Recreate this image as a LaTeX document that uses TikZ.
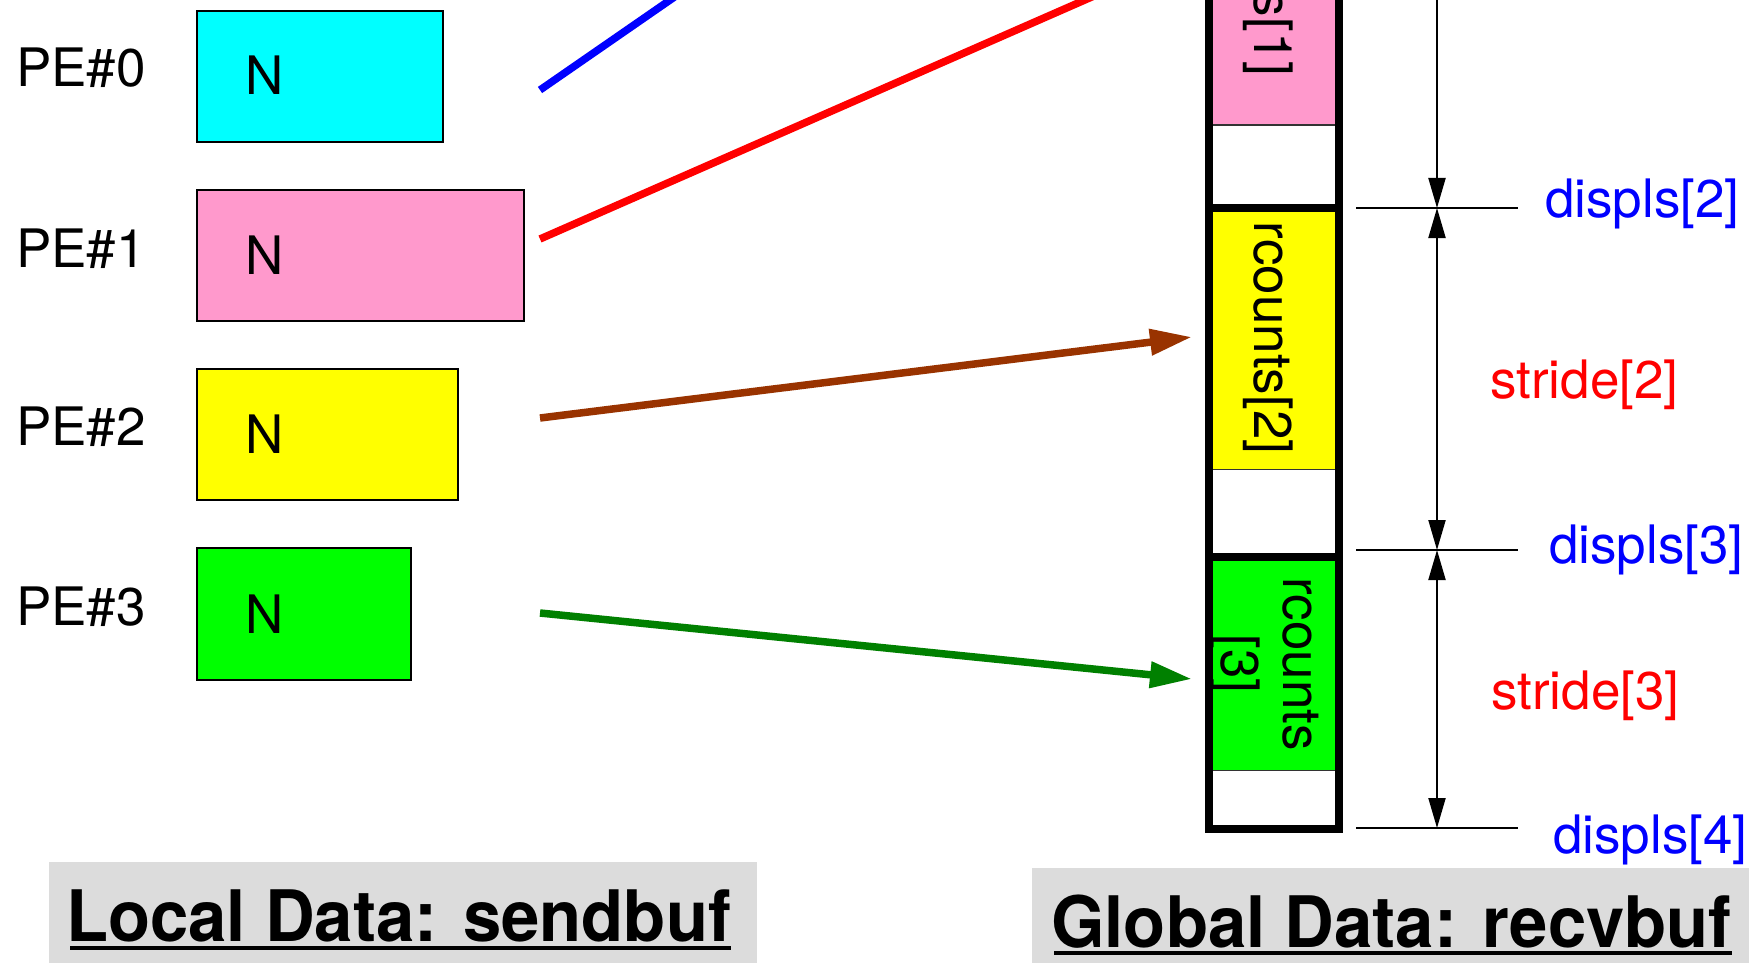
\documentclass[tikz,border=0pt]{standalone}
\usepackage{fontspec}
\setmainfont{TeX Gyre Heros}
\newfontfamily\ttlfont[FakeStretch=0.97]{TeX Gyre Heros}
\usetikzlibrary{arrows.meta}
\definecolor{pecyan}{RGB}{0,255,255}
\definecolor{pepink}{RGB}{255,153,204}
\definecolor{peyellow}{RGB}{255,255,0}
\definecolor{pegreen}{RGB}{0,255,0}
\definecolor{lnbrown}{RGB}{153,51,0}
\definecolor{lngreen}{RGB}{0,128,0}
\definecolor{titlegray}{RGB}{220,220,220}
\tikzset{dimhead/.tip={Triangle[length=30pt,width=17pt]},
         bighead/.tip={Triangle[length=42pt,width=25pt]}}
\begin{document}
\begin{tikzpicture}[x=1pt,y=-1pt,
  lbl/.style={font=\fontsize{53}{62}\selectfont, inner sep=0pt, anchor=base west},
  rot/.style={font=\fontsize{53}{62}\selectfont, inner sep=0pt, rotate=-90},
  pebox/.style={draw=black, line width=2pt, anchor=north west, inner sep=0pt},
  seg/.style={inner sep=0pt, minimum width=122pt, draw=none},
  conn/.style={line width=7.5pt},
  dimline/.style={line width=2pt},
  thinsep/.style={line width=1.5pt, black!80},
  barline/.style={line width=8pt},
  ttl/.style={font=\ttlfont\fontsize{71}{80}\selectfont\bfseries, inner sep=0pt, anchor=base west},
  ]
\useasboundingbox (0,0) rectangle (1749,963);
\clip (0,0) rectangle (1749,963);

% local boxes
\node[pebox, fill=pecyan,   minimum width=246pt, minimum height=131pt] (b0) at (196,10) {};
\node[pebox, fill=pepink,   minimum width=327pt, minimum height=131pt] (b1) at (196,189) {};
\node[pebox, fill=peyellow, minimum width=261pt, minimum height=131pt] (b2) at (196,368) {};
\node[pebox, fill=pegreen,  minimum width=214pt, minimum height=132pt] (b3) at (196,547) {};

\node[lbl] (pe0) at (16,87)  {PE\#0};
\node[lbl] (pe1) at (16,267) {PE\#1};
\node[lbl] (pe2) at (16,445) {PE\#2};
\node[lbl] (pe3) at (16,625) {PE\#3};

\node[lbl] (n0) at (245,95)  {N};
\node[lbl] (n1) at (245,274) {N};
\node[lbl] (n2) at (245,453) {N};
\node[lbl] (n3) at (245,633) {N};

% global buffer segments
\node[seg, fill=pepink,   minimum height=326pt, anchor=south west] (seg1) at (1213,125) {};
\node[seg, fill=peyellow, minimum height=257pt, anchor=north west] (seg2) at (1213,212) {};
\node[seg, fill=pegreen,  minimum height=209pt, anchor=north west] (seg3) at (1213,561) {};

\draw[thinsep] (seg1.south west) -- (seg1.south east);
\draw[thinsep] (seg2.south west) -- (seg2.south east);
\draw[thinsep] (seg3.south west) -- (seg3.south east);

\draw[barline] (1205,208) -- (1343,208);
\draw[barline] (1205,557) -- (1343,557);
\draw[barline, line join=miter] (1209,-60) -- (1209,829) -- (1339,829) -- (1339,-60);

\node[rot] (t1) at (1268,-40) {rcounts[1]};
\node[rot] (t2) at (1268,338) {rcounts[2]};
\node[rot, align=center] (t3) at (1265,664) {rcounts\\{[3]}};

% connectors
\coordinate (s0) at (540,90);
\coordinate (s1) at (540,239);
\coordinate (s2) at (540,418);
\coordinate (s3) at (540,613);
\coordinate (c0) at (1192,-361);
\coordinate (c1) at (1192,-47);
\coordinate (c2) at (1192,337);
\coordinate (c3) at (1192,679);
\draw[conn, blue, -{bighead}] (s0) -- (c0);
\draw[conn, red, -{bighead}] (s1) -- (c1);
\draw[conn, lnbrown, -{bighead}] (s2) -- (c2);
\draw[conn, lngreen, -{bighead}] (s3) -- (c3);

% dimension line
\coordinate (dtop) at (1437,-30);
\coordinate (d2) at (1437,208);
\coordinate (d3) at (1437,550);
\coordinate (d4) at (1437,828);
\draw[dimline, -{dimhead}] (dtop) -- (d2);
\draw[dimline, {dimhead}-{dimhead}] (d2) -- (d3);
\draw[dimline, {dimhead}-{dimhead}] (d3) -- (d4);
\draw[dimline] (1356,208) -- (1518,208);
\draw[dimline] (1356,550) -- (1518,550);
\draw[dimline] (1356,828) -- (1518,828);

\node[lbl, text=blue] (dl2) at (1545,218) {displs[2]};
\node[lbl, text=blue] (dl3) at (1549,563) {displs[3]};
\node[lbl, text=blue] (dl4) at (1553,853) {displs[4]};
\node[lbl, text=red] (sl2) at (1490,398) {stride[2]};
\node[lbl, text=red] (sl3) at (1491,709) {stride[3]};

% titles
\node[fill=titlegray, inner sep=0pt, anchor=north west, minimum width=708pt, minimum height=101pt] (tb1) at (49,862) {};
\node[fill=titlegray, inner sep=0pt, anchor=north west, minimum width=717pt, minimum height=95pt] (tb2) at (1032,868) {};
\node[ttl] (lt) at (66,941) {Local Data: sendbuf};
\draw[line width=3.5pt] ([xshift=4pt,yshift=-7pt]lt.base west) -- ([yshift=-7pt]lt.base east);
\node[ttl] (gt) at (1051,947) {Global Data: recvbuf};
\draw[line width=3.5pt] ([xshift=3pt,yshift=-6pt]gt.base west) -- ([yshift=-6pt]gt.base east);
\end{tikzpicture}
\end{document}
